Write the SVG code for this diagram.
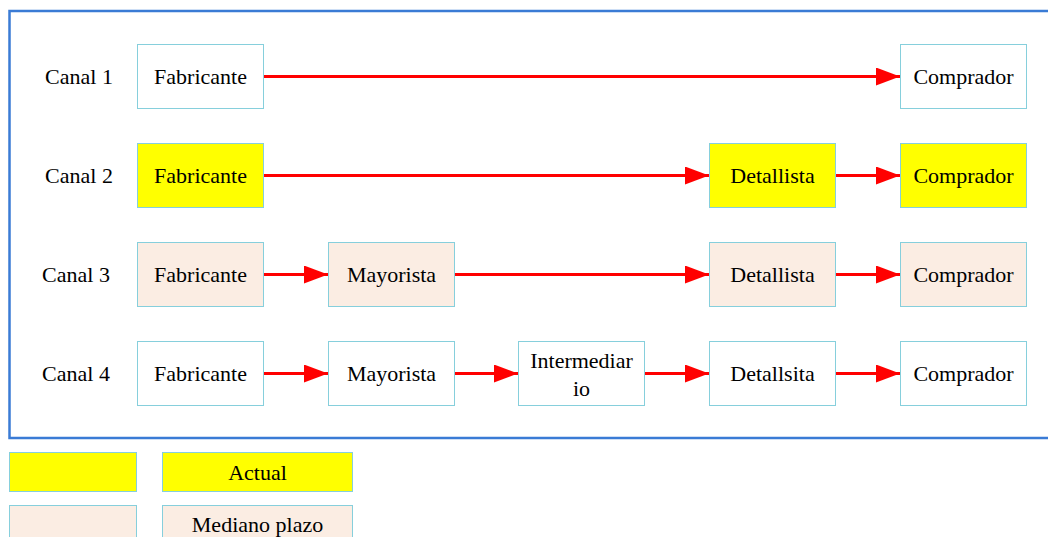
<svg xmlns="http://www.w3.org/2000/svg" width="1048" height="537" viewBox="0 0 1048 537">
  <style>
    .frame { fill: none; stroke: #3a7bd5; stroke-width: 2.5; }
    .box { stroke: #86cfdc; stroke-width: 1; }
    .white { fill: #ffffff; }
    .yellow { fill: #ffff00; }
    .peach { fill: #fbede3; }
    .lbl { font-family: "Liberation Serif", "Times New Roman", serif; font-size: 22px; fill: #000; text-anchor: middle; dominant-baseline: central; }
    .conn { stroke: #ff0000; stroke-width: 3; fill: none; marker-end: url(#arrow); }
  </style>
  <defs>
    <marker id="arrow" markerUnits="userSpaceOnUse" markerWidth="24" markerHeight="18" refX="24" refY="9" orient="auto">
      <path d="M0,0 L24,9 L0,18 Z" fill="#ff0000"/>
    </marker>
  </defs>
  <rect width="1048" height="537" fill="#ffffff"/>
  <rect class="frame" x="9.5" y="11" width="1050" height="427"/>

  <!-- row labels -->
  <g id="labels">
    <text class="lbl" x="79" y="76.5">Canal 1</text>
    <text class="lbl" x="79" y="175.5">Canal 2</text>
    <text class="lbl" x="76" y="274.5">Canal 3</text>
    <text class="lbl" x="76" y="373.5">Canal 4</text>
  </g>

  <!-- connectors -->
  <g id="connectors">
    <line class="conn" x1="264" y1="76.5" x2="900" y2="76.5"/>
    <line class="conn" x1="264" y1="175.5" x2="709" y2="175.5"/>
    <line class="conn" x1="836" y1="175.5" x2="900" y2="175.5"/>
    <line class="conn" x1="264" y1="274.5" x2="328" y2="274.5"/>
    <line class="conn" x1="455" y1="274.5" x2="709" y2="274.5"/>
    <line class="conn" x1="836" y1="274.5" x2="900" y2="274.5"/>
    <line class="conn" x1="264" y1="373.5" x2="328" y2="373.5"/>
    <line class="conn" x1="455" y1="373.5" x2="518" y2="373.5"/>
    <line class="conn" x1="645" y1="373.5" x2="709" y2="373.5"/>
    <line class="conn" x1="836" y1="373.5" x2="900" y2="373.5"/>
  </g>

  <!-- Canal 1 -->
  <g id="c1-fabricante"><rect class="box white" x="137.5" y="44.5" width="126" height="64"/><text class="lbl" x="200.5" y="76.5">Fabricante</text></g>
  <g id="c1-comprador"><rect class="box white" x="900.5" y="44.5" width="126" height="64"/><text class="lbl" x="963.5" y="76.5">Comprador</text></g>

  <!-- Canal 2 -->
  <g id="c2-fabricante"><rect class="box yellow" x="137.5" y="143.5" width="126" height="64"/><text class="lbl" x="200.5" y="175.5">Fabricante</text></g>
  <g id="c2-detallista"><rect class="box yellow" x="709.5" y="143.5" width="126" height="64"/><text class="lbl" x="772.5" y="175.5">Detallista</text></g>
  <g id="c2-comprador"><rect class="box yellow" x="900.5" y="143.5" width="126" height="64"/><text class="lbl" x="963.5" y="175.5">Comprador</text></g>

  <!-- Canal 3 -->
  <g id="c3-fabricante"><rect class="box peach" x="137.5" y="242.5" width="126" height="64"/><text class="lbl" x="200.5" y="274.5">Fabricante</text></g>
  <g id="c3-mayorista"><rect class="box peach" x="328.5" y="242.5" width="126" height="64"/><text class="lbl" x="391.5" y="274.5">Mayorista</text></g>
  <g id="c3-detallista"><rect class="box peach" x="709.5" y="242.5" width="126" height="64"/><text class="lbl" x="772.5" y="274.5">Detallista</text></g>
  <g id="c3-comprador"><rect class="box peach" x="900.5" y="242.5" width="126" height="64"/><text class="lbl" x="963.5" y="274.5">Comprador</text></g>

  <!-- Canal 4 -->
  <g id="c4-fabricante"><rect class="box white" x="137.5" y="341.5" width="126" height="64"/><text class="lbl" x="200.5" y="373.5">Fabricante</text></g>
  <g id="c4-mayorista"><rect class="box white" x="328.5" y="341.5" width="126" height="64"/><text class="lbl" x="391.5" y="373.5">Mayorista</text></g>
  <g id="c4-intermediario"><rect class="box white" x="518.5" y="341.5" width="126" height="64"/><text class="lbl" x="581.5" y="360">Intermediar</text><text class="lbl" x="581.5" y="388">io</text></g>
  <g id="c4-detallsita"><rect class="box white" x="709.5" y="341.5" width="126" height="64"/><text class="lbl" x="772.5" y="373.5">Detallsita</text></g>
  <g id="c4-comprador"><rect class="box white" x="900.5" y="341.5" width="126" height="64"/><text class="lbl" x="963.5" y="373.5">Comprador</text></g>

  <!-- legend -->
  <g id="legend-actual">
    <rect class="box yellow" x="9.5" y="452.5" width="127" height="39"/>
    <rect class="box yellow" x="162.5" y="452.5" width="190" height="39"/>
    <text class="lbl" x="257.5" y="472">Actual</text>
  </g>
  <g id="legend-mediano">
    <rect class="box peach" x="9.5" y="505.5" width="127" height="39"/>
    <rect class="box peach" x="162.5" y="505.5" width="190" height="39"/>
    <text class="lbl" x="257.5" y="524">Mediano plazo</text>
  </g>
</svg>
